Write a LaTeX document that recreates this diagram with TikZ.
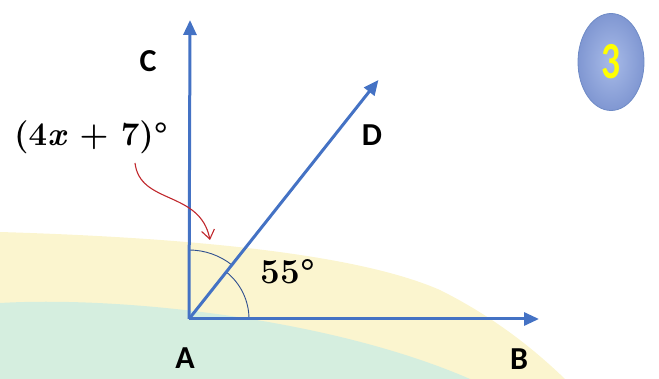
\documentclass[tikz,border=0pt]{standalone}
\usepackage{fontspec}
\newfontfamily\labfont{Carlito}
\usetikzlibrary{arrows.meta,shapes.geometric,calc}
\definecolor{rayblue}{HTML}{4472C4}
\definecolor{arcblue}{HTML}{2F4F8F}
\definecolor{arrred}{HTML}{C0282D}
\definecolor{bgyellow}{HTML}{FBF5CF}
\definecolor{bggreen}{HTML}{D5EEDF}
\definecolor{ellin}{HTML}{A8BBE8}
\definecolor{ellout}{HTML}{8097D2}
\definecolor{elldraw}{HTML}{6F8BC6}
\definecolor{badgetext}{HTML}{FFFF00}
\begin{document}
\begin{tikzpicture}[x=1pt,y=-1pt,
  ray/.style={draw=rayblue,line width=3pt,-{Triangle[length=15pt,width=13pt]}},
  anglearc/.style={draw=arcblue,line width=0.9pt},
  ptlabel/.style={font=\labfont\bfseries\fontsize{32}{36}\selectfont,inner sep=0pt},
  mathlabel/.style={inner sep=0pt,font=\bfseries\fontsize{33}{38}\selectfont},
  pointer/.style={draw=arrred,line width=1.1pt,-{Straight Barb[length=9pt,width=13pt]}}]
\useasboundingbox (0,0) rectangle (659,379);
% background
\fill[bgyellow] (0,232) .. controls (200,238) and (360,255) .. (440,290) .. controls (500,320) and (540,355) .. (565,379) -- (0,379) -- cycle;
\fill[bggreen] (0,303) .. controls (120,296) and (330,318) .. (470,379) -- (0,379) -- cycle;
% points
\coordinate (A) at (189,319);
\coordinate (B) at (539,319);
\coordinate (C) at (190,20);
\coordinate (D) at ($(A)+(-51.6:305)$);
% angle arcs
\draw[anglearc] ($(A)+(60,0)$) arc[start angle=0,end angle=-51.6,radius=60];
\draw[anglearc] ($(A)+(-51.6:69)$) arc[start angle=-51.6,end angle=-90,radius=69];
% rays
\draw[ray] (A) -- (B);
\draw[ray] (A) -- (C);
\draw[ray] (A) -- (D);
% labels
\node[ptlabel] (lA) at (185,358) {A};
\node[ptlabel] (lB) at (519,359) {B};
\node[ptlabel] (lC) at (148,61) {C};
\node[ptlabel] (lD) at (372,135) {D};
\node[mathlabel] (lx) at (91,137) {(4\textit{x} + 7)°};
\node[mathlabel,font=\bfseries\fontsize{35}{40}\selectfont] (lfive) at (288,272) {55°};
% pointer
\coordinate (pS) at (135,163);
\coordinate (pE) at (210,240);
\draw[pointer] (pS) .. controls (140,205) and (200,190) .. (pE);
% number badge
\node[ellipse,draw=elldraw,line width=0.8pt,inner color=ellin,outer color=ellout,minimum width=66pt,minimum height=97pt,inner sep=0pt,
  font=\labfont\bfseries\fontsize{52}{56}\selectfont,text=badgetext] (badge) at (611,62) {\scalebox{0.72}[1]{3}};
\end{tikzpicture}
\end{document}
